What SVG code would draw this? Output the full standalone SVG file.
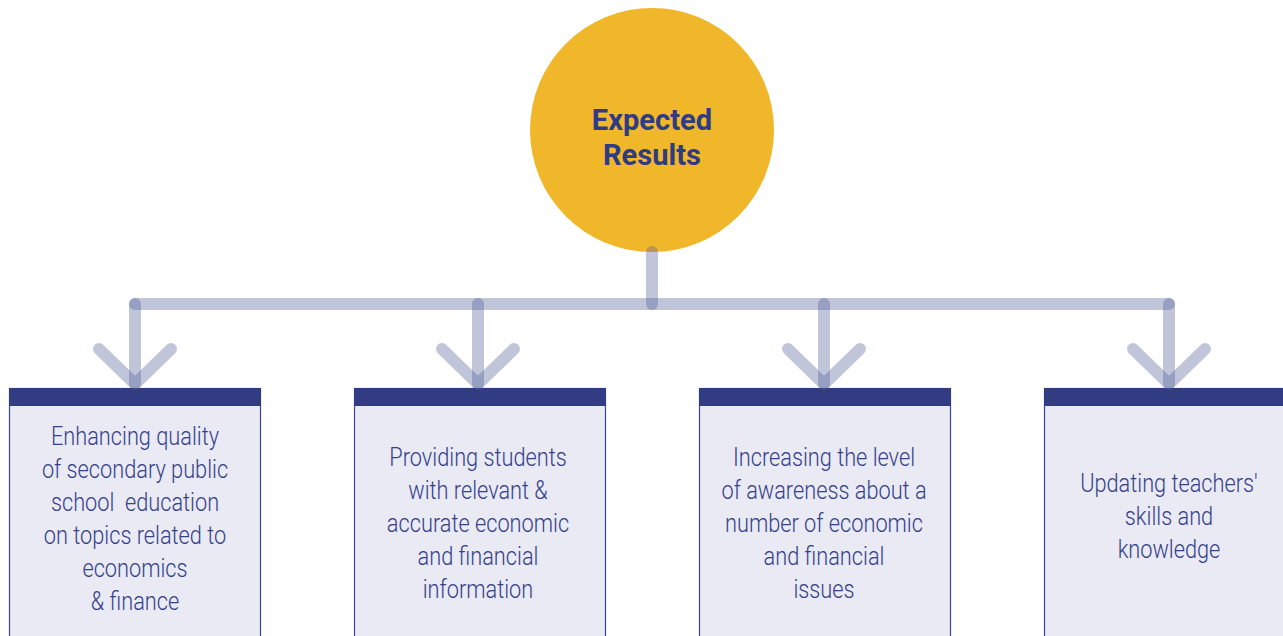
<svg xmlns="http://www.w3.org/2000/svg" width="1283" height="636" viewBox="0 0 1283 636">
<style>
.conn{fill:none;stroke:#4b5995;stroke-opacity:0.35;stroke-width:12;stroke-linecap:round;stroke-linejoin:round}
.box{fill:#e9eaf3;stroke:#3a4590;stroke-width:1.2}
.band{fill:#313c82}
.t{font-family:Roboto,"Liberation Sans",sans-serif;font-weight:300;font-size:25px;fill:#36418c;text-anchor:middle}
.title{font-family:Roboto,"Liberation Sans",sans-serif;font-weight:700;font-size:30px;fill:#2f3b82;text-anchor:middle}
</style>
<rect width="1283" height="636" fill="#ffffff"/>
<g id="center">
<circle cx="652" cy="130" r="122" fill="#f1b72a"/>
<g transform="translate(652,0) scale(0.97,1)">
<text class="title" x="0" y="130">Expected</text>
<text class="title" x="0" y="165">Results</text>
</g>
</g>
<g id="box1">
<rect class="box" x="9.5" y="388.5" width="251" height="260"/>
<rect class="band" x="9" y="388" width="252" height="18"/>
<g transform="translate(135,0) scale(0.87,1)">
<text class="t" x="0" y="445">Enhancing quality</text>
<text class="t" x="0" y="478">of secondary public</text>
<text class="t" x="0" y="511" xml:space="preserve">school  education</text>
<text class="t" x="0" y="544">on topics related to</text>
<text class="t" x="0" y="577">economics</text>
<text class="t" x="0" y="610">&amp; finance</text>
</g>
</g>
<g id="box2">
<rect class="box" x="354.5" y="388.5" width="251" height="260"/>
<rect class="band" x="354" y="388" width="252" height="18"/>
<g transform="translate(478,0) scale(0.87,1)">
<text class="t" x="0" y="466">Providing students</text>
<text class="t" x="0" y="499">with relevant &amp;</text>
<text class="t" x="0" y="532">accurate economic</text>
<text class="t" x="0" y="565">and financial</text>
<text class="t" x="0" y="598">information</text>
</g>
</g>
<g id="box3">
<rect class="box" x="699.5" y="388.5" width="251" height="260"/>
<rect class="band" x="699" y="388" width="252" height="18"/>
<g transform="translate(824,0) scale(0.87,1)">
<text class="t" x="0" y="466">Increasing the level</text>
<text class="t" x="0" y="499">of awareness about a</text>
<text class="t" x="0" y="532">number of economic</text>
<text class="t" x="0" y="565">and financial</text>
<text class="t" x="0" y="598">issues</text>
</g>
</g>
<g id="box4">
<rect class="box" x="1044.5" y="388.5" width="260" height="260"/>
<rect class="band" x="1044" y="388" width="260" height="18"/>
<g transform="translate(1169,0) scale(0.87,1)">
<text class="t" x="0" y="492">Updating teachers'</text>
<text class="t" x="0" y="525">skills and</text>
<text class="t" x="0" y="558">knowledge</text>
</g>
</g>
<g id="connectors">
<line class="conn" x1="652" y1="252" x2="652" y2="304"/>
<line class="conn" x1="135" y1="304" x2="1169" y2="304"/>
<line class="conn" x1="135" y1="304" x2="135" y2="384"/>
<line class="conn" x1="478" y1="304" x2="478" y2="384"/>
<line class="conn" x1="824" y1="304" x2="824" y2="384"/>
<line class="conn" x1="1169" y1="304" x2="1169" y2="384"/>
<polyline class="conn" points="99,349 135,384 171,349"/>
<polyline class="conn" points="442,349 478,384 514,349"/>
<polyline class="conn" points="788,349 824,384 860,349"/>
<polyline class="conn" points="1133,349 1169,384 1205,349"/>
</g>
</svg>
